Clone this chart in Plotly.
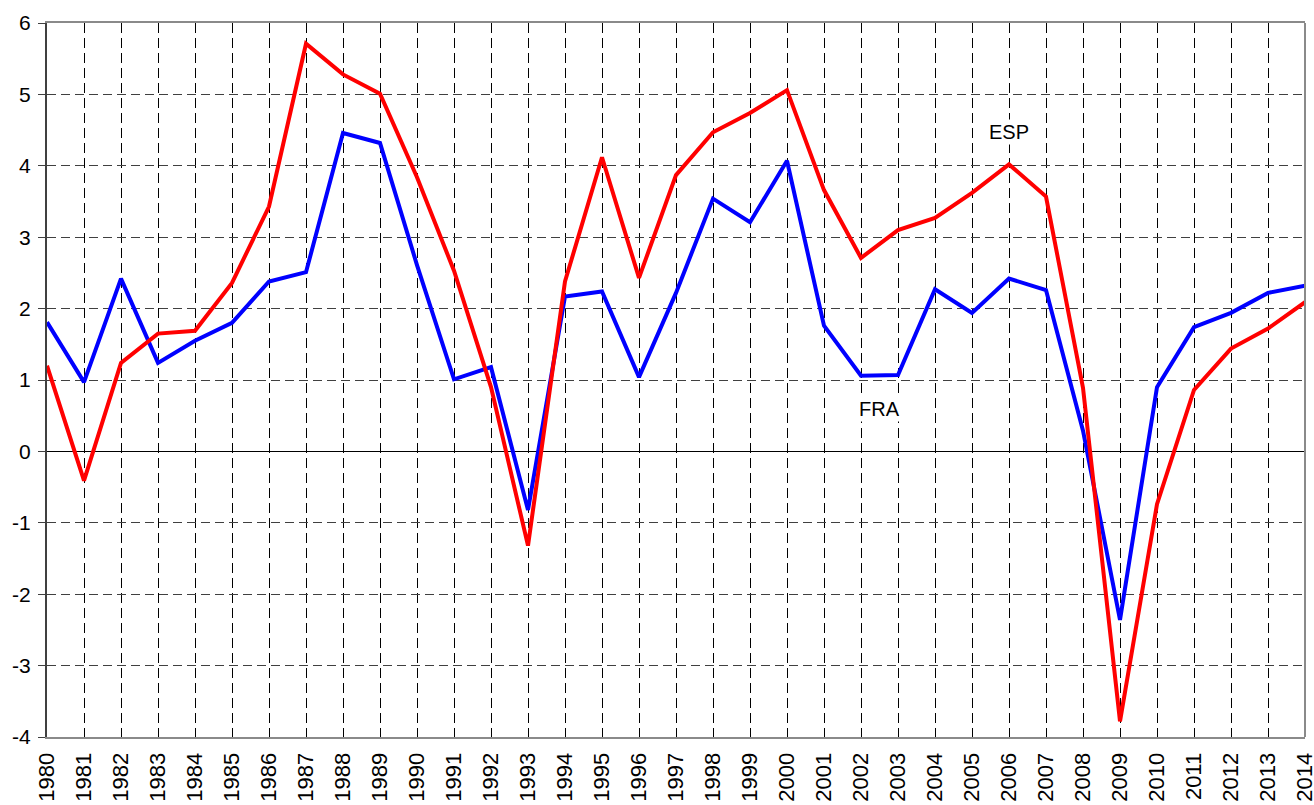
import plotly.graph_objects as go

years = list(range(1980, 2015))
year_labels = [str(y) for y in years]

esp = [1.20, -0.41, 1.24, 1.65, 1.69, 2.36, 3.43, 5.71, 5.28, 5.01,
       3.84, 2.53, 0.90, -1.32, 2.38, 4.12, 2.43, 3.87, 4.47, 4.74,
       5.06, 3.66, 2.71, 3.10, 3.27, 3.62, 4.02, 3.57, 0.89, -3.78,
       -0.74, 0.86, 1.44, 1.72, 2.09]

fra = [1.81, 0.97, 2.42, 1.24, 1.55, 1.80, 2.38, 2.51, 4.46, 4.32,
       2.61, 1.01, 1.18, -0.82, 2.17, 2.24, 1.04, 2.22, 3.54, 3.21,
       4.07, 1.76, 1.06, 1.07, 2.27, 1.94, 2.42, 2.26, 0.29, -2.36,
       0.90, 1.74, 1.94, 2.22, 2.32]

y_ticks = [-4, -3, -2, -1, 0, 1, 2, 3, 4, 5, 6]
y_tick_labels = ["-4", "-3", "-2", "-1", "0", "1", "2", "3", "4", "5", "6"]

labels = [("ESP", 2006, 4.48), ("FRA", 2002.5, 0.60)]

font_family = "Liberation Sans, Arial, sans-serif"

fig = go.Figure()
fig.add_trace(go.Scatter(x=years, y=fra, mode="lines", name="FRA",
                         line=dict(color="#0000FF", width=4)))
fig.add_trace(go.Scatter(x=years, y=esp, mode="lines", name="ESP",
                         line=dict(color="#FF0000", width=4)))

for txt, xv, yv in labels:
    fig.add_annotation(x=xv, y=yv, text=txt, showarrow=False,
                       font=dict(family=font_family, size=20, color="#000000"),
                       xanchor="center", yanchor="middle", bgcolor="white")

fig.update_layout(
    width=1314, height=805,
    margin=dict(l=47, r=9, t=23, b=68, autoexpand=False),
    paper_bgcolor="white", plot_bgcolor="white",
    showlegend=False,
    font=dict(family=font_family, color="#000000"),
)

fig.update_xaxes(
    range=[1980, 2014], tickmode="array", tickvals=years, ticktext=year_labels,
    tickangle=-90, tickfont=dict(size=22, family=font_family, color="#000000"),
    ticklabelstandoff=5, ticklabeloverflow="allow",
    showgrid=True, gridcolor="#000000", gridwidth=1, griddash="10px,5px",
    showline=True, linecolor="#8a8a8a", linewidth=2, mirror=True,
    ticks="", zeroline=False, automargin=False,
)

fig.update_yaxes(
    range=[-4, 6], tickmode="array", tickvals=y_ticks, ticktext=y_tick_labels,
    tickfont=dict(size=21, family=font_family, color="#000000"),
    ticklabelstandoff=3,
    showgrid=True, gridcolor="#404040", gridwidth=1, griddash="9px,5px",
    showline=True, linecolor="#404040", linewidth=2, mirror=False,
    ticks="outside", ticklen=7, tickcolor="#404040", tickwidth=1,
    zeroline=True, zerolinecolor="#000000", zerolinewidth=1, automargin=False,
)

fig.add_shape(type="line", xref="paper", yref="paper", x0=1, x1=1, y0=0, y1=1,
              line=dict(color="#8a8a8a", width=2))

fig.write_html("out.html", config={"displayModeBar": False},
               post_script="document.body.style.margin='0';document.body.style.padding='0';")
